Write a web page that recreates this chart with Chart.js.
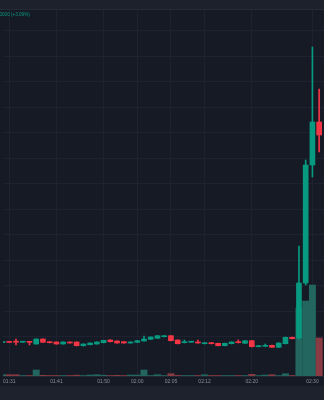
<!DOCTYPE html>
<html>
<head>
<meta charset="utf-8">
<script src="https://cdn.jsdelivr.net/npm/chart.js@4.4.1/dist/chart.umd.min.js"></script>
<style>
  html, body { margin: 0; padding: 0; background: #161a25; overflow: hidden; width: 324px; height: 400px; }
  #top { position: absolute; left: 0; top: 0; width: 324px; height: 9px; background: #1d212c; border-bottom: 1px solid #262a35; }
  #legend { position: absolute; left: -7px; top: 12px; font: 4.6px "Liberation Sans", sans-serif; color: #089981; white-space: nowrap; }
  #wrap { position: absolute; left: 0; top: 10px; width: 324px; height: 376px; }
  #bottom { position: absolute; left: 0; top: 386px; width: 324px; height: 14px; background: #1e222d; }
</style>
</head>
<body>
<div id="top"></div>
<div id="wrap"><canvas id="chart" width="324" height="376"></canvas></div>
<div id="legend">+0.0000 (+3.09%)</div>
<div id="bottom"></div>
<script>
// time axis labels and the candle index each one sits on
const timeLabels = ["01:31", "01:41", "01:50", "02:00", "02:05", "02:12", "02:20", "02:30"];
const labelIdx = [1, 8, 15, 20, 25, 30, 37, 46];

// OHLC per candle
const opens  = [3.35, 3.40, 3.40, 3.38, 3.40, 3.20, 3.70, 3.43, 3.40, 3.20, 3.40, 3.40, 3.03, 3.13, 3.20, 3.33,
                3.60, 3.50, 3.43, 3.30, 3.37, 3.50, 3.67, 3.77, 3.93, 4.03, 3.60, 3.33, 3.38, 3.40, 3.23, 3.33,
                3.27, 3.03, 3.23, 3.43, 3.27, 3.53, 2.93, 2.97, 3.07, 2.87, 3.23, 3.87, 3.80, 9.30, 21.10, 25.40];
const closes = [3.40, 3.36, 3.38, 3.41, 3.37, 3.70, 3.37, 3.33, 3.20, 3.40, 3.30, 3.03, 3.20, 3.30, 3.40, 3.57,
                3.43, 3.30, 3.30, 3.40, 3.53, 3.70, 3.90, 4.03, 4.03, 3.53, 3.23, 3.40, 3.42, 3.30, 3.33, 3.23,
                3.03, 3.27, 3.40, 3.33, 3.53, 2.93, 3.03, 3.07, 2.87, 3.30, 3.87, 3.73, 9.30, 21.10, 25.40, 24.10];
const highs  = [3.42, 3.42, 3.68, 3.42, 3.41, 3.72, 3.72, 3.45, 3.42, 3.42, 3.42, 3.42, 3.22, 3.32, 3.42, 3.58,
                3.62, 3.52, 3.45, 3.42, 3.55, 4.00, 3.92, 4.05, 4.05, 4.05, 3.62, 3.60, 3.44, 3.60, 3.35, 3.35,
                3.30, 3.30, 3.42, 3.60, 3.55, 3.55, 3.05, 3.20, 3.10, 3.32, 3.90, 3.90, 13.00, 21.60, 32.90, 28.70];
const lows   = [3.33, 3.34, 3.10, 3.36, 3.10, 3.18, 3.35, 3.30, 3.18, 3.18, 3.28, 3.00, 2.98, 3.10, 3.18, 3.30,
                3.40, 3.28, 3.28, 3.28, 3.35, 3.48, 3.65, 3.75, 3.90, 3.50, 3.20, 3.30, 3.36, 3.28, 3.20, 3.20,
                3.00, 3.00, 3.20, 3.30, 3.25, 2.90, 2.90, 2.95, 2.85, 2.85, 3.20, 3.70, 3.70, 9.10, 19.90, 22.40];
// volume per candle (thousands)
const volumes = [1300, 1300, 1300, 500, 500, 6000, 700, 500, 500, 500, 500, 800, 500, 1000, 1300, 800,
                 500, 700, 500, 1000, 1000, 6000, 500, 1300, 500, 2300, 600, 500, 500, 500, 1300, 500,
                 500, 500, 500, 500, 500, 1700, 500, 1000, 1300, 500, 2300, 500, 68000, 75000, 91000, 38000];
// price levels of the horizontal grid
const gridPrices = [3.95, 6.50, 9.05, 11.60, 14.15, 16.70, 19.25, 21.80, 24.35, 26.90, 29.45, 32.00, 34.55];

const UP = "#089981", DOWN = "#f23645";
const UP_VOL = "#22665f", DOWN_VOL = "#8a3a42";
const isUp = opens.map((o, i) => closes[i] >= o);

new Chart(document.getElementById("chart"), {
  type: "bar",
  data: {
    datasets: [
      {
        label: "body",
        data: opens.map((o, i) => ({ x: i, y: [o, closes[i]] })),
        backgroundColor: isUp.map(u => u ? UP : DOWN),
        barThickness: 5,
        minBarLength: 1,
        grouped: false,
        order: 0,
      },
      {
        label: "wick",
        data: lows.map((l, i) => ({ x: i, y: [l, highs[i]] })),
        backgroundColor: isUp.map(u => u ? UP : DOWN),
        barThickness: 1,
        grouped: false,
        order: 1,
      },
      {
        label: "volume",
        data: volumes.map((v, i) => ({ x: i, y: v })),
        backgroundColor: isUp.map(u => u ? UP_VOL : DOWN_VOL),
        barThickness: 6.3,
        grouped: false,
        yAxisID: "yv",
        order: 2,
      },
    ],
  },
  options: {
    responsive: false,
    animation: false,
    devicePixelRatio: 1,
    layout: { padding: 0 },
    plugins: { legend: { display: false }, tooltip: { enabled: false } },
    scales: {
      x: {
        type: "linear",
        offset: false,
        min: 0.0735,
        max: 47.72,
        afterBuildTicks: s => { s.ticks = labelIdx.map(v => ({ value: v })); },
        afterFit: s => { s.height = 10; },
        ticks: {
          callback: (v, i) => timeLabels[i],
          color: "#8b8e98",
          font: { family: "Liberation Sans", size: 5 },
          padding: 3,
          maxRotation: 0,
          autoSkip: false,
        },
        grid: { color: "#1d2130", drawTicks: false, offset: false },
        border: { color: "#232733" },
      },
      y: {
        min: 0,
        max: 36.6,
        position: "right",
        afterBuildTicks: s => { s.ticks = gridPrices.map(v => ({ value: v })); },
        afterFit: s => { s.width = 0; },
        ticks: { display: false },
        grid: { color: "#1d2130", drawTicks: false },
        border: { display: false },
      },
      yv: {
        min: 0,
        max: 366000,
        display: false,
      },
    },
  },
});
</script>
</body>
</html>
